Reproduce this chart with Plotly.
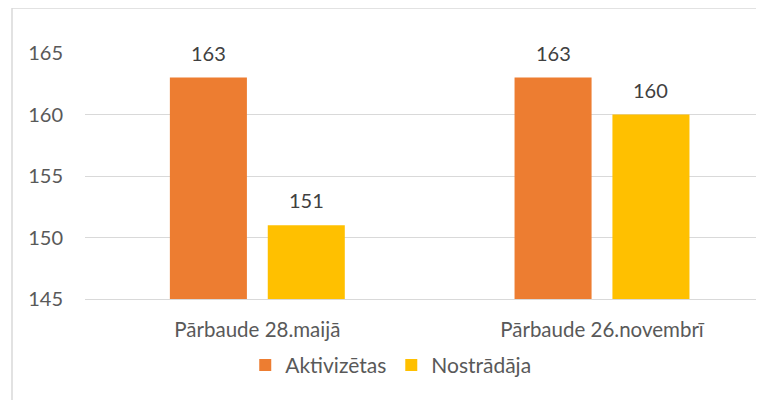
import plotly.graph_objects as go

categories = ["Pārbaude 28.maijā", "Pārbaude 26.novembrī"]
series_names = ["Aktivizētas", "Nostrādāja"]
aktivizetas = [163, 163]
nostradaja = [151, 160]
y_ticks = [145, 150, 155, 160, 165]

colors = ["#ED7D31", "#FFC000"]
text_color = "#595959"
font_family = "Lato, 'Open Sans', sans-serif"
font_size = 20

fig = go.Figure()
series_values = [aktivizetas, nostradaja]
for name, vals, col in zip(series_names, series_values, colors):
    fig.add_trace(go.Bar(
        name=name,
        x=list(range(len(categories))),
        y=vals,
        marker=dict(color=col, line=dict(width=0)),
    ))

# data labels positioned from data values
offsets = [-0.142, 0.142]
for vals, off in zip(series_values, offsets):
    for i, v in enumerate(vals):
        fig.add_annotation(
            x=i + off, y=v, xref="x", yref="y",
            text=str(v), showarrow=False,
            yanchor="bottom", yshift=11,
            font=dict(family=font_family, size=font_size, color="#404040"),
        )

# outer chart border (cropped on right and bottom)
fig.add_shape(
    type="rect", xref="paper", yref="paper",
    x0=-0.1075, x1=1.05, y0=-0.5, y1=1.183,
    line=dict(color="#D9D9D9", width=1.5), fillcolor="rgba(0,0,0,0)",
    layer="below",
)

fig.update_layout(
    width=756, height=392,
    margin=dict(l=77, r=0, t=45, b=101, pad=0),
    paper_bgcolor="white", plot_bgcolor="white",
    barmode="group", bargap=0.432, bargroupgap=0.213,
    font=dict(family=font_family, size=font_size, color=text_color),
    showlegend=True,
    legend=dict(
        orientation="h", x=0.236, xanchor="left", y=-0.27, yanchor="middle",
        font=dict(family=font_family, size=21, color=text_color),
        bgcolor="rgba(0,0,0,0)", itemclick=False, traceorder="normal",
    ),
    xaxis=dict(
        range=[-0.5, 1.47],
        tickmode="array", tickvals=list(range(len(categories))), ticktext=categories,
        tickfont=dict(size=20.5),
        showgrid=False, zeroline=False, showline=True, linecolor="#D9D9D9", linewidth=1,
        ticks="", ticklabelstandoff=12,
    ),
    yaxis=dict(
        range=[145, 165], tickmode="array", tickvals=y_ticks,
        showgrid=True, gridcolor="#D9D9D9", gridwidth=1,
        zeroline=False, showline=False, ticks="", ticklabelstandoff=21,
    ),
)

fig.write_html("out.html")
